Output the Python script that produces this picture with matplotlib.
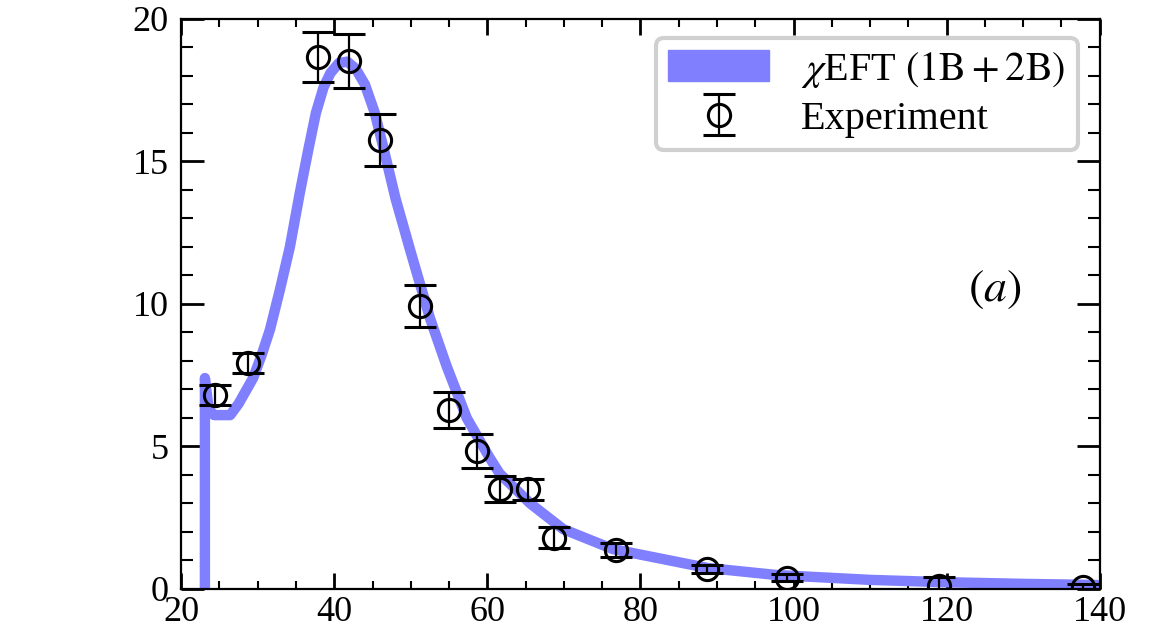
import numpy as np
import matplotlib
matplotlib.use("Agg")
import matplotlib.pyplot as plt
from matplotlib.patches import Patch
from matplotlib.ticker import MultipleLocator

plt.rcParams['font.family'] = ['Liberation Serif', 'DejaVu Serif']
plt.rcParams['mathtext.fontset'] = 'stix'

# theory curve (chiEFT 1B+2B)
curve_x = [23.1, 23.1, 23.6, 24.3, 26.4, 27.5, 29.4, 30.5, 31.6, 32.9, 34.2, 35.5,
           36.6, 37.6, 38.6, 39.5, 40.6, 41.7, 42.8, 44.0, 45.3, 46.4, 48.0,
           49.9, 52.5, 54.7, 57.3, 60.3, 61.6, 65.6, 69.9, 76.4, 88.7,
           97.8, 110.0, 119.5, 130.0, 139.6]
curve_y = [0.0, 7.4, 6.3, 6.1, 6.1, 6.5, 7.4, 8.2, 9.1, 10.5, 12.0, 13.9,
           15.4, 16.7, 17.6, 18.1, 18.45, 18.5, 18.25, 17.7, 16.7, 15.5, 13.7,
           11.9, 9.5, 7.8, 6.0, 4.6, 4.05, 3.0, 2.1, 1.4, 0.74,
           0.49, 0.32, 0.24, 0.18, 0.14]

# experimental points
exp_x = [24.4, 28.7, 37.9, 41.9, 46.0, 51.2, 55.0, 58.6, 61.6, 65.3, 68.7, 76.8,
         88.7, 99.1, 119.0, 137.8]
exp_y = [6.8, 7.93, 18.67, 18.53, 15.75, 9.93, 6.28, 4.84, 3.5, 3.5, 1.8, 1.37,
         0.7, 0.39, 0.12, 0.08]
exp_err = [0.35, 0.35, 0.88, 0.95, 0.9, 0.74, 0.63, 0.58, 0.45, 0.37, 0.37, 0.25,
           0.15, 0.12, 0.3, 0.1]

fig = plt.figure(figsize=(11.54, 6.29), dpi=100)
ax = fig.add_axes([0.157, 0.0636, 0.796, 0.9064])

blue = '#8080ff'
ax.plot(curve_x, curve_y, color=blue, lw=7.5, solid_capstyle='round',
        solid_joinstyle='round', zorder=2)
ax.errorbar(exp_x, exp_y, yerr=exp_err, fmt='o', mfc='none', mec='black',
            ms=16, mew=2.2, ecolor='black', elinewidth=1.6, capsize=11.5,
            capthick=2.2, zorder=3)

ax.set_xlim(20, 140)
ax.set_ylim(0, 20)
ax.xaxis.set_major_locator(MultipleLocator(20))
ax.xaxis.set_minor_locator(MultipleLocator(5))
ax.yaxis.set_major_locator(MultipleLocator(5))
ax.yaxis.set_minor_locator(MultipleLocator(1))

ax.tick_params(which='both', direction='in', top=True, right=True,
               labelsize=26)
ax.tick_params(axis='x', which='major', length=11.5, width=2, pad=5)
ax.tick_params(axis='x', which='minor', length=5.8, width=1.5)
ax.tick_params(axis='y', which='major', length=16.5, width=2, pad=9)
ax.tick_params(axis='y', which='minor', length=8.6, width=1.5)
for s in ax.spines.values():
    s.set_linewidth(1.6)

ax.text(0.886, 0.525, r'$(a)$', transform=ax.transAxes, fontsize=33,
        ha='center', va='center')

handles = [Patch(facecolor=blue, edgecolor=blue),
           ax.containers[0]]
labels = [r'$\chi$EFT $(1\mathrm{B}+2\mathrm{B})$', 'Experiment']
leg = ax.legend(handles, labels, loc='upper right', bbox_to_anchor=(0.976, 0.967),
                borderaxespad=0, fontsize=29, handlelength=2.5, handleheight=0.8,
                handletextpad=0.8, labelspacing=0.25, borderpad=0.3,
                fancybox=True, framealpha=1)
leg.get_frame().set_edgecolor('#d0d0d0')
leg.get_frame().set_linewidth(3)

fig.savefig('out.png', dpi=100)
